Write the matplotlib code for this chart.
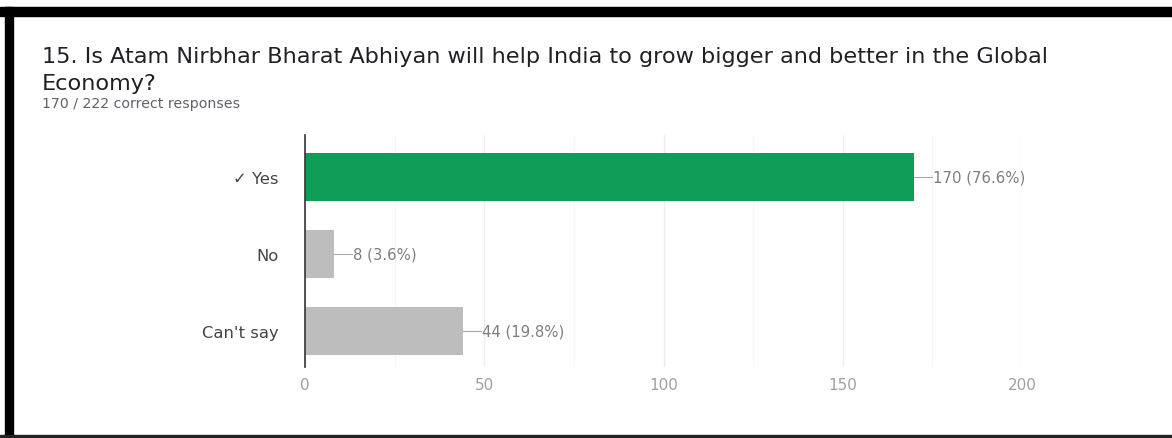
import matplotlib.pyplot as plt
from matplotlib.patches import Rectangle
from matplotlib.ticker import MultipleLocator

answers = ["\u2713 Yes", "No", "Can't say"]
counts = [170, 8, 44]
percents = [76.6, 3.6, 19.8]
bar_colors = ["#0f9d58", "#bdbdbd", "#bdbdbd"]
x_ticks = [0, 50, 100, 150, 200]

W, H = 1172, 439
fig = plt.figure(figsize=(W / 100, H / 100), dpi=100)
fig.patch.set_facecolor("white")
plt.rcParams["font.family"] = ["DejaVu Sans"]

# screenshot frame: thick top and left edges, thin bottom edge
fig.patches.append(Rectangle((0, 1 - 17 / H), 1, 9 / H, transform=fig.transFigure,
                             color="black", zorder=5))
fig.patches.append(Rectangle((5 / W, 0), 8 / W, 1 - 8 / H, transform=fig.transFigure,
                             color="black", zorder=5))
fig.patches.append(Rectangle((0, 0), 1, 3 / H, transform=fig.transFigure,
                             color="#222222", zorder=5))

fig.text(42 / W, 1 - 57 / H, "15. Is Atam Nirbhar Bharat Abhiyan will help India to grow bigger and better in the Global",
         fontsize=16.1, color="#202124", va="center", ha="left")
fig.text(42 / W, 1 - 84 / H, "Economy?",
         fontsize=16.1, color="#202124", va="center", ha="left")
fig.text(42 / W, 1 - 104 / H, "170 / 222 correct responses",
         fontsize=10.2, color="#5f6368", va="center", ha="left")

ax = fig.add_axes([305 / W, 71 / H, 717 / W, 232 / H])
pos = list(range(len(answers)))
ax.barh(pos, counts, height=0.63, color=bar_colors, zorder=3)

for y, c, p in zip(pos, counts, percents):
    ax.plot([c, c + 5], [y, y], color="#a8a8a8", lw=0.8, zorder=3, clip_on=False)
    ax.text(c + 5.3, y, f"{c} ({p}%)", va="center", ha="left",
            fontsize=10.7, color="#7a7f80")

ax.set_xlim(0, 200)
ax.set_ylim(2.47, -0.55)
ax.set_yticks(pos)
ax.set_yticklabels(answers, fontsize=11.8, color="#444444")
ax.set_xticks(x_ticks)
ax.xaxis.set_minor_locator(MultipleLocator(25))
ax.tick_params(axis="x", length=0, labelsize=11, labelcolor="#a0a0a0", pad=7)
ax.tick_params(axis="y", length=0, pad=19)
ax.tick_params(axis="x", which="minor", length=0)

ax.grid(axis="x", which="major", color="#ededed", lw=1.0, zorder=0)
ax.grid(axis="x", which="minor", color="#f6f6f6", lw=0.8, zorder=0)
for s in ["top", "right", "bottom"]:
    ax.spines[s].set_visible(False)
ax.spines["left"].set_color("#333333")
ax.spines["left"].set_linewidth(1.2)
ax.spines["left"].set_zorder(4)

fig.savefig("out.png", dpi=100)
